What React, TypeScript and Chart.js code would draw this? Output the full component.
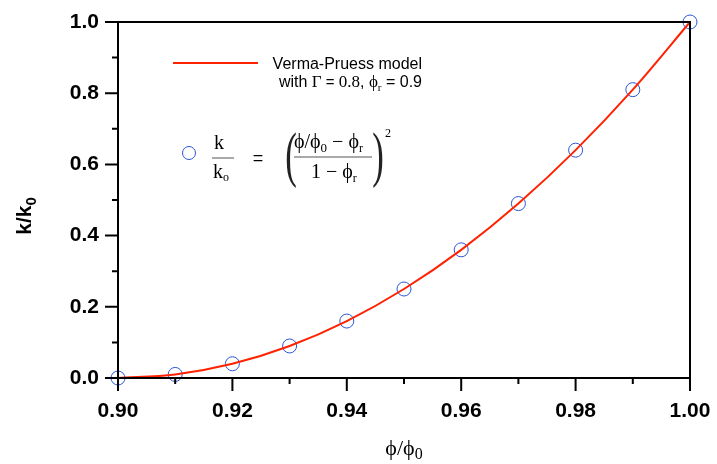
import React, { useEffect, useRef } from "react";
import { Chart, registerables } from "chart.js";
Chart.register(...registerables);

const phi = [0.9, 0.91, 0.92, 0.93, 0.94, 0.95, 0.96, 0.97, 0.98, 0.99, 1.0];
const kMeasured = [0.0, 0.01, 0.04, 0.09, 0.16, 0.25, 0.36, 0.49, 0.64, 0.81, 1.0];
const kModel = [0.0, 0.01, 0.04, 0.09, 0.16, 0.25, 0.36, 0.49, 0.64, 0.81, 1.0];
const xMajorTicks = [0.9, 0.92, 0.94, 0.96, 0.98, 1.0];
const xMinorTicks = [0.91, 0.93, 0.95, 0.97, 0.99];
const yMajorTicks = [0.0, 0.2, 0.4, 0.6, 0.8, 1.0];
const yMinorTicks = [0.1, 0.3, 0.5, 0.7, 0.9];

const RED = "#ff2200";
const BLUE = "#2b55d6";
const SANS = "Arial, 'Liberation Sans', sans-serif";
const SERIF = "'Times New Roman', 'Liberation Serif', serif";
const PHI = "\u03d5";

const decor = {
  id: "decor",
  afterDraw(chart: any) {
    const ctx = chart.ctx;
    const { left, right, top, bottom } = chart.chartArea;
    const xs = chart.scales.x;
    const ys = chart.scales.y;
    ctx.save();
    ctx.strokeStyle = "#000";
    ctx.lineWidth = 2;
    ctx.strokeRect(left, top, right - left, bottom - top);
    ctx.beginPath();
    xMajorTicks.forEach((v) => { const p = xs.getPixelForValue(v); ctx.moveTo(p, bottom); ctx.lineTo(p, bottom + 13); });
    xMinorTicks.forEach((v) => { const p = xs.getPixelForValue(v); ctx.moveTo(p, bottom); ctx.lineTo(p, bottom + 6); });
    yMajorTicks.forEach((v) => { const p = ys.getPixelForValue(v); ctx.moveTo(left, p); ctx.lineTo(left - 13, p); });
    yMinorTicks.forEach((v) => { const p = ys.getPixelForValue(v); ctx.moveTo(left, p); ctx.lineTo(left - 6, p); });
    ctx.stroke();

    // axis titles
    ctx.fillStyle = "#000";
    ctx.save();
    ctx.translate(31, 216);
    ctx.rotate(-Math.PI / 2);
    ctx.font = `bold 21px ${SANS}`;
    ctx.textBaseline = "alphabetic";
    ctx.textAlign = "left";
    const w1 = ctx.measureText("k/k").width;
    ctx.font = `bold 15px ${SANS}`;
    const w2 = ctx.measureText("0").width;
    const start = -(w1 + w2) / 2;
    ctx.font = `bold 21px ${SANS}`;
    ctx.fillText("k/k", start, 0);
    ctx.font = `bold 15px ${SANS}`;
    ctx.fillText("0", start + w1, 5);
    ctx.restore();

    ctx.textBaseline = "alphabetic";
    ctx.textAlign = "left";
    ctx.font = `22px ${SERIF}`;
    const tw = ctx.measureText(`${PHI}/${PHI}`).width;
    ctx.font = `16px ${SERIF}`;
    const tw2 = ctx.measureText("0").width;
    const sx = 404 - (tw + tw2) / 2;
    ctx.font = `22px ${SERIF}`;
    ctx.fillText(`${PHI}/${PHI}`, sx, 455);
    ctx.font = `16px ${SERIF}`;
    ctx.fillText("0", sx + tw, 459);

    // legend line
    ctx.strokeStyle = RED;
    ctx.lineWidth = 2;
    ctx.beginPath();
    ctx.moveTo(173, 63);
    ctx.lineTo(258, 63);
    ctx.stroke();
    ctx.font = `16px ${SANS}`;
    ctx.textAlign = "right";
    ctx.fillText("Verma-Pruess model", 422, 69);
    const segs: [string, string, number][] = [
      ["with ", `16px ${SANS}`, 0],
      ["\u0393", `17px ${SERIF}`, 0],
      [" = ", `15px ${SANS}`, 0],
      ["0.8", `17px ${SERIF}`, 0],
      [", ", `16px ${SANS}`, 0],
      [PHI, `17px ${SERIF}`, 0],
      ["r", `11px ${SERIF}`, 4],
      [" = 0.9", `16px ${SANS}`, 0],
    ];
    ctx.textAlign = "left";
    let total = 0;
    segs.forEach(([t, f]) => { ctx.font = f; total += ctx.measureText(t).width; });
    let cx = 422 - total;
    segs.forEach(([t, f, dy]) => { ctx.font = f; ctx.fillText(t, cx, 87 + dy); cx += ctx.measureText(t).width; });

    // legend marker
    ctx.strokeStyle = BLUE;
    ctx.lineWidth = 1;
    ctx.beginPath();
    ctx.arc(189, 153, 6.5, 0, Math.PI * 2);
    ctx.stroke();

    // formula
    ctx.fillStyle = "#000";
    ctx.strokeStyle = "#555";
    ctx.lineWidth = 1;
    ctx.textAlign = "center";
    ctx.font = `20px ${SERIF}`;
    ctx.fillText("k", 219, 149);
    ctx.beginPath(); ctx.moveTo(212, 158); ctx.lineTo(234, 158); ctx.stroke();
    ctx.textAlign = "left";
    ctx.fillText("k", 213, 178);
    ctx.font = `12px ${SERIF}`;
    ctx.fillText("o", 223, 181);
    ctx.font = `18px ${SANS}`;
    ctx.textAlign = "center";
    ctx.fillText("=", 258, 164);
    ctx.save();
    ctx.font = `58px ${SERIF}`;
    ctx.fillStyle = "#222";
    ctx.setTransform(0.6, 0, 0, 1.05, 0, 0);
    ctx.textAlign = "center";
    ctx.fillText("(", 291 / 0.6, 175 / 1.05);
    ctx.fillText(")", 378 / 0.6, 175 / 1.05);
    ctx.restore();
    ctx.font = `12px ${SERIF}`;
    ctx.textAlign = "center";
    ctx.fillText("2", 388, 137);
    ctx.textAlign = "left";
    let nx = 294;
    const num: [string, string, number][] = [
      [`${PHI}/${PHI}`, `20px ${SERIF}`, 0],
      ["0", `13px ${SERIF}`, 4],
      [` \u2212 ${PHI}`, `20px ${SERIF}`, 0],
      ["r", `12px ${SERIF}`, 4],
    ];
    num.forEach(([t, f, dy]) => { ctx.font = f; ctx.fillText(t, nx, 148 + dy); nx += ctx.measureText(t).width; });
    ctx.strokeStyle = "#555";
    ctx.beginPath(); ctx.moveTo(294, 157); ctx.lineTo(372, 157); ctx.stroke();
    let dx = 311;
    const den: [string, string, number][] = [
      [`1 \u2212 ${PHI}`, `20px ${SERIF}`, 0],
      ["r", `12px ${SERIF}`, 4],
    ];
    den.forEach(([t, f, dy]) => { ctx.font = f; ctx.fillText(t, dx, 178 + dy); dx += ctx.measureText(t).width; });
    ctx.restore();
  },
};

export default function App() {
  const ref = useRef<HTMLCanvasElement>(null);
  useEffect(() => {
    const chart = new Chart(ref.current!, {
      type: "scatter",
      data: {
        datasets: [
          {
            type: "line",
            label: "Verma-Pruess model",
            data: phi.map((x, i) => ({ x, y: kModel[i] })),
            borderColor: RED,
            borderWidth: 2,
            pointRadius: 0,
            fill: false,
            cubicInterpolationMode: "monotone",
            clip: false,
          } as any,
          {
            label: "k/ko",
            data: phi.map((x, i) => ({ x, y: kMeasured[i] })),
            borderColor: BLUE,
            backgroundColor: "rgba(0,0,0,0)",
            borderWidth: 1,
            pointRadius: 7,
            pointHoverRadius: 7,
            clip: false,
          } as any,
        ],
      },
      options: {
        responsive: false,
        animation: false,
        events: [],
        layout: { padding: { left: 0, top: 22, right: 27, bottom: 0 } },
        plugins: { legend: { display: false }, tooltip: { enabled: false } },
        scales: {
          x: {
            type: "linear",
            min: 0.9,
            max: 1.0,
            grid: { display: false, drawTicks: false },
            border: { display: false },
            ticks: {
              stepSize: 0.02,
              padding: 21,
              color: "#000",
              font: { family: SANS, size: 21, weight: "bold" },
              callback: (v: any) => Number(v).toFixed(2),
              maxRotation: 0,
            },
            afterFit: (s: any) => { s.height = 86; s.paddingLeft = 0; s.paddingRight = 0; },
          },
          y: {
            min: 0,
            max: 1.0,
            grid: { display: false, drawTicks: false },
            border: { display: false },
            ticks: {
              stepSize: 0.2,
              padding: 19,
              color: "#000",
              font: { family: SANS, size: 21, weight: "bold" },
              callback: (v: any) => Number(v).toFixed(1),
            },
            afterFit: (s: any) => { s.width = 118; s.paddingTop = 0; s.paddingBottom = 0; },
          },
        },
      },
      plugins: [decor],
    });
    return () => chart.destroy();
  }, []);
  return (
    <div style={{ position: "fixed", left: 0, top: 0, width: 717, height: 464, background: "#fff" }}>
      <canvas ref={ref} width={717} height={464} />
    </div>
  );
}
